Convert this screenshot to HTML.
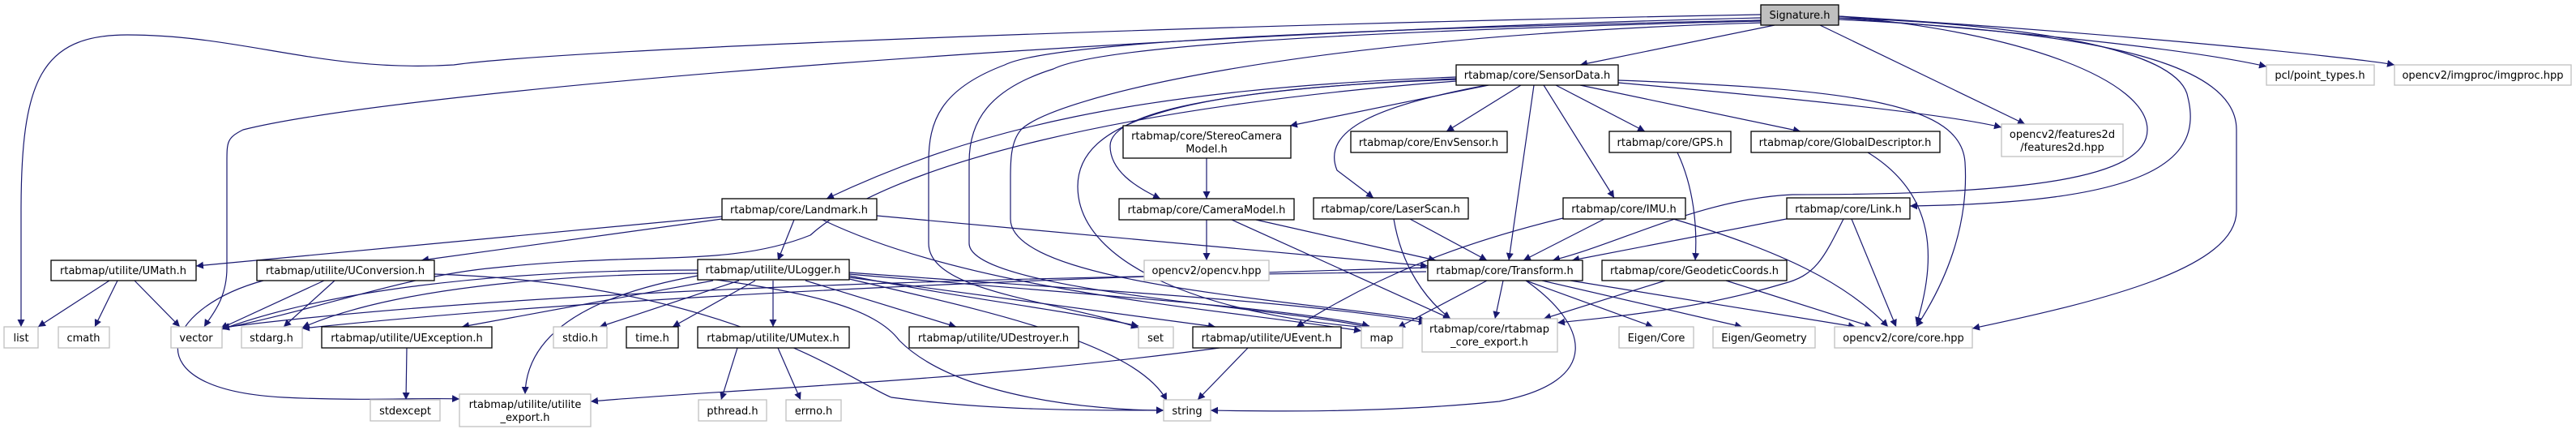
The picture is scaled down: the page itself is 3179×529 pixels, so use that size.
<!DOCTYPE html>
<html><head><meta charset="utf-8"><style>
html,body{margin:0;padding:0;background:#fff;}
svg{display:block;}
text{font-family:"DejaVu Sans","Liberation Sans",sans-serif;font-size:13px;fill:#000;}
.b{fill:#fff;stroke:#000;stroke-width:1.3;}
.g{fill:#fff;stroke:#bfbfbf;stroke-width:1.3;}
.r{fill:#bfbfbf;stroke:#000;stroke-width:1.3;}
path.e{fill:none;stroke:#191970;stroke-width:1.2;marker-end:url(#a);}
</style></head><body>
<svg width="3179" height="529" viewBox="0 0 3179 529" xmlns="http://www.w3.org/2000/svg">
<defs><marker id="a" viewBox="0 0 10 10" refX="10" refY="5" markerWidth="9" markerHeight="9" markerUnits="userSpaceOnUse" orient="auto"><path d="M0,0 L10,5 L0,10 z" fill="#191970"/></marker></defs>
<g>
<path class="e" d="M2190,31 L1950,80"/>
<path class="e" d="M2173,18 C1500,30 700,60 560,80 C400,90 300,43 157,43 C50,43 26,100 26,260 L26,403"/>
<path class="e" d="M2173,22 C1400,40 500,110 300,160 C280,170 280,175 280,200 L280,330 C280,370 260,390 252,403"/>
<path class="e" d="M2173,25 C1700,35 1300,50 1240,80 C1160,110 1146,150 1146,200 L1146,300 C1146,360 1300,370 1405,404"/>
<path class="e" d="M2173,26 C1600,40 1350,60 1300,85 C1220,110 1196,150 1196,200 L1196,300 C1196,360 1600,380 1690,404"/>
<path class="e" d="M2175,28 C1600,45 1300,120 1260,160 C1247,175 1247,200 1247,220 L1247,270 C1247,350 1600,370 1760,395"/>
<path class="e" d="M2269,22 C2500,30 2690,60 2700,120 C2720,200 2650,250 2357,254"/>
<path class="e" d="M2269,20 C2500,40 2650,100 2650,160 C2650,220 2500,240 2212,240 C2100,245 2000,300 1916,321"/>
<path class="e" d="M2269,24 C2600,40 2760,80 2760,160 L2760,260 C2760,330 2600,370 2434,405"/>
<path class="e" d="M2246,31 L2499,153"/>
<path class="e" d="M2269,22 C2500,40 2700,60 2797,82"/>
<path class="e" d="M2269,20 C2600,40 2900,70 2955,80"/>
<path class="e" d="M1997,99 C2300,110 2420,130 2425,200 C2430,280 2400,350 2365,403"/>
<path class="e" d="M1997,102 C2200,120 2400,140 2470,157"/>
<path class="e" d="M1877,105 L1785,162"/>
<path class="e" d="M1920,105 L2030,162"/>
<path class="e" d="M1950,105 L2222,162"/>
<path class="e" d="M1905,105 L1992,244"/>
<path class="e" d="M1893,105 L1862,321"/>
<path class="e" d="M1835,105 C1700,130 1630,160 1650,210 L1695,244"/>
<path class="e" d="M1837,105 L1592,155"/>
<path class="e" d="M1797,97 C1500,110 1370,140 1370,180 C1370,210 1400,230 1432,245"/>
<path class="e" d="M1797,95 C1400,110 1200,160 1020,245"/>
<path class="e" d="M1797,98 C1450,110 1330,150 1330,230 C1330,330 1500,390 1690,404"/>
<path class="e" d="M1797,100 C1400,130 1100,200 1000,290 C900,330 800,310 612,330 C500,340 400,380 274,405"/>
<path class="e" d="M1489,195 L1489,245"/>
<path class="e" d="M1489,271 L1489,321"/>
<path class="e" d="M1550,271 L1772,321"/>
<path class="e" d="M1520,271 L1790,393"/>
<path class="e" d="M980,271 L960,321"/>
<path class="e" d="M1082,266 L1762,328"/>
<path class="e" d="M891,267 L242,328"/>
<path class="e" d="M891,270 L520,321"/>
<path class="e" d="M1015,271 C1200,360 1500,380 1680,408"/>
<path class="e" d="M135,346 L47,403"/>
<path class="e" d="M145,346 L117,403"/>
<path class="e" d="M166,346 L222,403"/>
<path class="e" d="M400,346 L272,405"/>
<path class="e" d="M413,346 L350,403"/>
<path class="e" d="M325,346 C200,380 160,480 350,490 C450,495 520,490 567,492"/>
<path class="e" d="M536,338 C900,350 1050,470 1100,490 C1250,510 1400,505 1436,506"/>
<path class="e" d="M861,333 C600,333 400,360 274,406"/>
<path class="e" d="M861,337 C600,340 450,370 373,404"/>
<path class="e" d="M880,346 L570,403"/>
<path class="e" d="M912,346 L740,403"/>
<path class="e" d="M932,346 L830,403"/>
<path class="e" d="M954,346 L954,403"/>
<path class="e" d="M994,346 L1180,403"/>
<path class="e" d="M861,340 C750,360 650,400 648,486"/>
<path class="e" d="M861,342 C1000,360 1080,380 1110,420 C1180,490 1350,506 1436,506"/>
<path class="e" d="M1048,340 C1200,370 1300,380 1405,402"/>
<path class="e" d="M1048,342 L1500,403"/>
<path class="e" d="M1048,338 C1300,360 1600,380 1690,402"/>
<path class="e" d="M1048,336 C1300,355 1600,370 1760,398"/>
<path class="e" d="M1048,344 C1200,380 1400,420 1440,494"/>
<path class="e" d="M1760,335 C1400,340 700,350 274,404"/>
<path class="e" d="M1762,330 C1400,340 800,360 373,405"/>
<path class="e" d="M910,429 L890,493"/>
<path class="e" d="M960,429 L988,493"/>
<path class="e" d="M502,429 L501,493"/>
<path class="e" d="M1540,429 L1478,493"/>
<path class="e" d="M1505,429 C1200,470 900,480 729,495"/>
<path class="e" d="M1835,346 L1725,404"/>
<path class="e" d="M1855,346 L1845,393"/>
<path class="e" d="M1883,346 L2040,403"/>
<path class="e" d="M1903,346 L2150,403"/>
<path class="e" d="M1938,346 L2290,403"/>
<path class="e" d="M1883,346 C1960,400 1980,470 1850,495 C1700,510 1550,507 1494,506"/>
<path class="e" d="M1740,270 L1835,321"/>
<path class="e" d="M1720,270 C1730,330 1760,370 1790,393"/>
<path class="e" d="M1980,270 L1880,321"/>
<path class="e" d="M1933,268 C1800,300 1700,340 1600,403"/>
<path class="e" d="M2065,270 C2200,310 2280,350 2330,403"/>
<path class="e" d="M2070,188 C2090,230 2095,280 2092,321"/>
<path class="e" d="M2305,188 C2390,240 2390,320 2365,400"/>
<path class="e" d="M2215,268 L1940,321"/>
<path class="e" d="M2285,270 L2340,403"/>
<path class="e" d="M2275,270 C2250,320 2240,340 2200,350 C2100,380 2000,390 1922,398"/>
<path class="e" d="M2055,346 L1905,393"/>
<path class="e" d="M2130,346 L2310,403"/>
</g>
<g>
<rect class="r" x="2173" y="6" width="96" height="25"/><text x="2221" y="23" text-anchor="middle">Signature.h</text>
<rect class="b" x="1797" y="80" width="200" height="25"/><text x="1897" y="97" text-anchor="middle">rtabmap/core/SensorData.h</text>
<rect class="g" x="2797" y="80" width="133" height="25"/><text x="2863" y="97" text-anchor="middle">pcl/point_types.h</text>
<rect class="g" x="2955" y="80" width="218" height="25"/><text x="3064" y="97" text-anchor="middle">opencv2/imgproc/imgproc.hpp</text>
<rect class="b" x="1386" y="155" width="207" height="40"/><text x="1489" y="172" text-anchor="middle">rtabmap/core/StereoCamera</text><text x="1489" y="188" text-anchor="middle">Model.h</text>
<rect class="b" x="1667" y="162" width="193" height="26"/><text x="1763" y="180" text-anchor="middle">rtabmap/core/EnvSensor.h</text>
<rect class="b" x="1986" y="162" width="150" height="26"/><text x="2061" y="180" text-anchor="middle">rtabmap/core/GPS.h</text>
<rect class="b" x="2161" y="162" width="233" height="26"/><text x="2277" y="180" text-anchor="middle">rtabmap/core/GlobalDescriptor.h</text>
<rect class="g" x="2470" y="153" width="150" height="40"/><text x="2545" y="170" text-anchor="middle">opencv2/features2d</text><text x="2545" y="186" text-anchor="middle">/features2d.hpp</text>
<rect class="b" x="891" y="245" width="191" height="26"/><text x="986" y="263" text-anchor="middle">rtabmap/core/Landmark.h</text>
<rect class="b" x="1381" y="245" width="216" height="26"/><text x="1489" y="263" text-anchor="middle">rtabmap/core/CameraModel.h</text>
<rect class="b" x="1621" y="244" width="191" height="26"/><text x="1716" y="262" text-anchor="middle">rtabmap/core/LaserScan.h</text>
<rect class="b" x="1929" y="244" width="151" height="26"/><text x="2004" y="262" text-anchor="middle">rtabmap/core/IMU.h</text>
<rect class="b" x="2205" y="244" width="152" height="26"/><text x="2281" y="262" text-anchor="middle">rtabmap/core/Link.h</text>
<rect class="b" x="63" y="321" width="179" height="25"/><text x="152" y="338" text-anchor="middle">rtabmap/utilite/UMath.h</text>
<rect class="b" x="317" y="321" width="219" height="25"/><text x="426" y="338" text-anchor="middle">rtabmap/utilite/UConversion.h</text>
<rect class="b" x="861" y="320" width="187" height="25"/><text x="954" y="337" text-anchor="middle">rtabmap/utilite/ULogger.h</text>
<rect class="g" x="1412" y="321" width="154" height="25"/><text x="1489" y="338" text-anchor="middle">opencv2/opencv.hpp</text>
<rect class="b" x="1762" y="321" width="191" height="25"/><text x="1857" y="338" text-anchor="middle">rtabmap/core/Transform.h</text>
<rect class="b" x="1977" y="321" width="228" height="25"/><text x="2091" y="338" text-anchor="middle">rtabmap/core/GeodeticCoords.h</text>
<rect class="g" x="5" y="403" width="42" height="26"/><text x="26" y="421" text-anchor="middle">list</text>
<rect class="g" x="72" y="403" width="63" height="26"/><text x="103" y="421" text-anchor="middle">cmath</text>
<rect class="g" x="211" y="403" width="63" height="26"/><text x="242" y="421" text-anchor="middle">vector</text>
<rect class="g" x="298" y="403" width="75" height="26"/><text x="335" y="421" text-anchor="middle">stdarg.h</text>
<rect class="b" x="397" y="403" width="210" height="26"/><text x="502" y="421" text-anchor="middle">rtabmap/utilite/UException.h</text>
<rect class="g" x="683" y="403" width="66" height="26"/><text x="716" y="421" text-anchor="middle">stdio.h</text>
<rect class="b" x="773" y="403" width="64" height="26"/><text x="805" y="421" text-anchor="middle">time.h</text>
<rect class="b" x="861" y="403" width="187" height="26"/><text x="954" y="421" text-anchor="middle">rtabmap/utilite/UMutex.h</text>
<rect class="b" x="1122" y="403" width="209" height="26"/><text x="1226" y="421" text-anchor="middle">rtabmap/utilite/UDestroyer.h</text>
<rect class="g" x="1405" y="403" width="43" height="26"/><text x="1426" y="421" text-anchor="middle">set</text>
<rect class="b" x="1472" y="403" width="183" height="26"/><text x="1563" y="421" text-anchor="middle">rtabmap/utilite/UEvent.h</text>
<rect class="g" x="1680" y="403" width="51" height="26"/><text x="1705" y="421" text-anchor="middle">map</text>
<rect class="g" x="1755" y="393" width="167" height="41"/><text x="1838" y="410" text-anchor="middle">rtabmap/core/rtabmap</text><text x="1838" y="426" text-anchor="middle">_core_export.h</text>
<rect class="g" x="1998" y="403" width="92" height="26"/><text x="2044" y="421" text-anchor="middle">Eigen/Core</text>
<rect class="g" x="2114" y="403" width="126" height="26"/><text x="2177" y="421" text-anchor="middle">Eigen/Geometry</text>
<rect class="g" x="2264" y="403" width="170" height="26"/><text x="2349" y="421" text-anchor="middle">opencv2/core/core.hpp</text>
<rect class="g" x="457" y="493" width="86" height="26"/><text x="500" y="511" text-anchor="middle">stdexcept</text>
<rect class="g" x="567" y="486" width="162" height="40"/><text x="648" y="503" text-anchor="middle">rtabmap/utilite/utilite</text><text x="648" y="519" text-anchor="middle">_export.h</text>
<rect class="g" x="862" y="493" width="84" height="26"/><text x="904" y="511" text-anchor="middle">pthread.h</text>
<rect class="g" x="970" y="493" width="68" height="26"/><text x="1004" y="511" text-anchor="middle">errno.h</text>
<rect class="g" x="1436" y="493" width="58" height="26"/><text x="1465" y="511" text-anchor="middle">string</text>
</g>
</svg>
</body></html>
